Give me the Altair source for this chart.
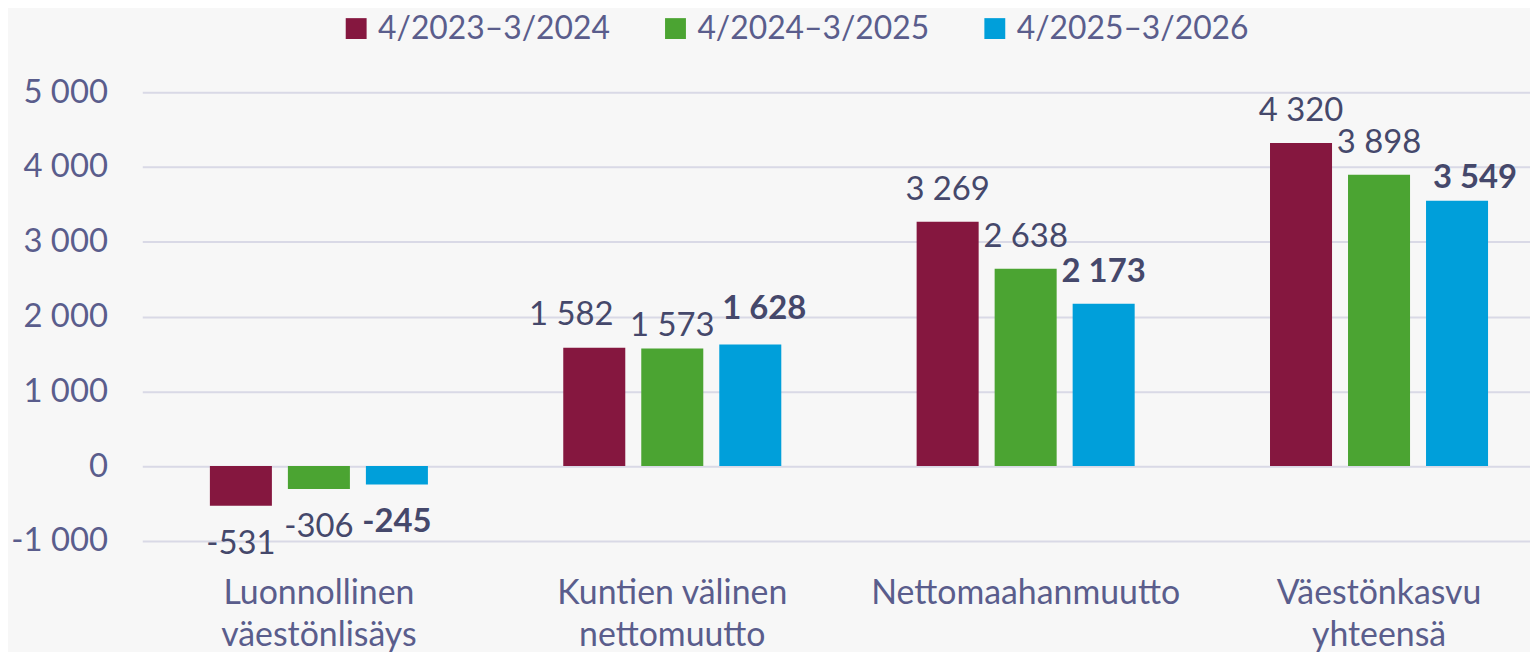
import json
import altair as alt
import pandas as pd

categories = [
    "Luonnollinen väestönlisäys",
    "Kuntien välinen nettomuutto",
    "Nettomaahanmuutto",
    "Väestönkasvu yhteensä",
]
series = ["4/2023–3/2024", "4/2024–3/2025", "4/2025–3/2026"]
values_2023_24 = [-531, 1582, 3269, 4320]
values_2024_25 = [-306, 1573, 2638, 3898]
values_2025_26 = [-245, 1628, 2173, 3549]
y_ticks = [-1000, 0, 1000, 2000, 3000, 4000, 5000]

colors = ["#85173f", "#4ba432", "#009fda"]
FONT = "Lato"
AXIS_COLOR = "#5a5d8c"
LABEL_COLOR = "#45486b"
GRID_COLOR = "#d9d9e6"
BG = "#f7f7f7"

# label placement nudges (dx, dy) for labels moved apart in the original
DEFAULT_DY = -22
NEG_DY = 48
label_nudges = {
    (categories[1], series[0]): (-23, -23),
    (categories[1], series[1]): (0, -13),
    (categories[1], series[2]): (14, -26),
    (categories[3], series[2]): (18, -13),
}

rows = []
for s, vals in zip(series, [values_2023_24, values_2024_25, values_2025_26]):
    for c, v in zip(categories, vals):
        rows.append({"category": c, "series": s, "value": v,
                     "label": f"{v:,}".replace(",", " ")})
df = pd.DataFrame(rows)

x_label_expr = (
    "indexof(datum.label, ' ') < 0 ? datum.label : "
    "[substring(datum.label, 0, lastindexof(datum.label, ' ')), "
    "substring(datum.label, lastindexof(datum.label, ' ') + 1)]"
)
y_label_expr = "replace(replace(format(datum.value, ','), ',', ' '), '\u2212', '-')"

x = alt.X(
    "category:N", sort=categories,
    scale=alt.Scale(paddingInner=0.383, paddingOuter=0.155, align=0.617),
    axis=alt.Axis(title=None, labelExpr=x_label_expr, labelAngle=0, ticks=False,
                  domain=False, labelFontSize=34, labelColor=AXIS_COLOR,
                  labelFont=FONT, labelPadding=36, labelLineHeight=42,
                  labelLimit=500),
)
xoff = alt.XOffset("series:N", sort=series,
                   scale=alt.Scale(paddingInner=0.205, paddingOuter=0))
y = alt.Y(
    "value:Q",
    scale=alt.Scale(domain=[-1000, 5000], nice=False),
    axis=alt.Axis(title=None, values=y_ticks, ticks=False, domain=False,
                  gridColor=GRID_COLOR, gridWidth=2, labelExpr=y_label_expr,
                  labelPadding=35, labelFontSize=33, labelColor=AXIS_COLOR,
                  labelFont=FONT),
)
color = alt.Color(
    "series:N", sort=series,
    scale=alt.Scale(domain=series, range=colors),
    legend=alt.Legend(
        title=None, orient="none", direction="horizontal",
        legendX=199, legendY=-80,
        symbolType="square", symbolSize=441,
        symbolStrokeWidth=0, symbolOpacity=1,
        labelFontSize=32, labelColor=AXIS_COLOR, labelFont=FONT,
        labelLimit=500, labelOffset=6, columnPadding=49,
    ),
)

base = alt.Chart(df)
bars = base.mark_bar().encode(x=x, xOffset=xoff, y=y, color=color)


def text_layer(expr, weight, dx, dy):
    return base.transform_filter(expr).mark_text(
        font=FONT, fontSize=33, fontWeight=weight, color=LABEL_COLOR,
        baseline="alphabetic", dx=dx, dy=dy,
    ).encode(x=x, xOffset=xoff, y=y, text="label:N")


layers = [bars]
for i, s in enumerate(series):
    weight = "bold" if i == 2 else "normal"
    nudged = [c for (c, ss) in label_nudges if ss == s]
    js = json.dumps(s)
    expr = f"datum.series == {js} && datum.value >= 0 && indexof({json.dumps(nudged)}, datum.category) < 0"
    layers.append(text_layer(expr, weight, 0, DEFAULT_DY))
    layers.append(text_layer(f"datum.series == {js} && datum.value < 0", weight, 0, NEG_DY))
    for c in nudged:
        dx, dy = label_nudges[(c, s)]
        expr = f"datum.series == {js} && datum.category == {json.dumps(c)}"
        layers.append(text_layer(expr, weight, dx, dy))

chart = alt.layer(*layers).properties(
    width=1395, height=451,
    autosize=alt.AutoSizeParams(type="none"),
    padding={"left": 135, "top": 83, "right": 0, "bottom": 110},
    background=BG,
).configure(font=FONT).configure_view(stroke=None)

chart.save("out.html", embed_options={"renderer": "svg", "actions": False})
